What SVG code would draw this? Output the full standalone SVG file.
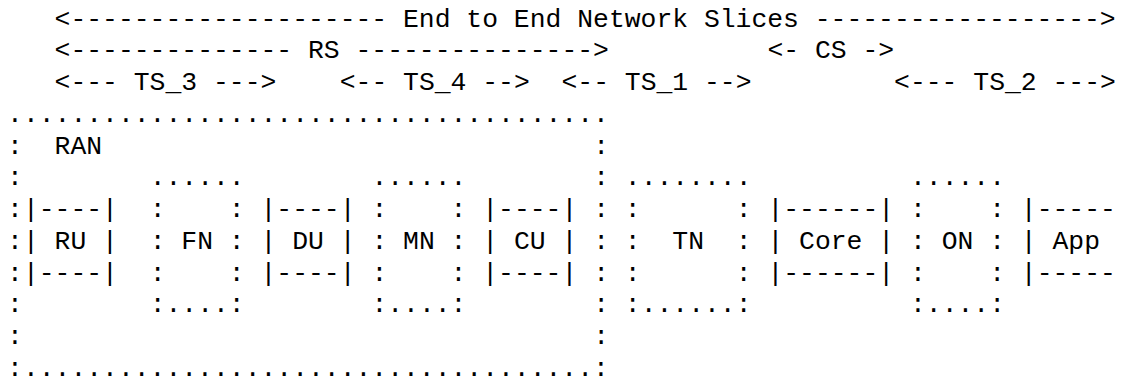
<svg xmlns="http://www.w3.org/2000/svg" width="1123" height="378" viewBox="0 0 1123 378" xml:space="preserve">
<style>
  text { font-family: "Liberation Mono", "DejaVu Sans Mono", monospace; font-size: 26.4px; fill: #000; white-space: pre; }
</style>
<rect x="0" y="0" width="1123" height="378" fill="#fff"/>
<g id="connectors">
  <g id="slices">
    <text x="54.6" y="26.5">&lt;-------------------- End to End Network Slices ------------------&gt;</text>
    <text x="54.6" y="58.25">&lt;-------------- RS ---------------&gt;</text>
    <text x="767.4" y="58.25">&lt;- CS -&gt;</text>
    <text x="54.6" y="90">&lt;--- TS_3 ---&gt;</text>
    <text x="339.72" y="90">&lt;-- TS_4 --&gt;</text>
    <text x="561.48" y="90">&lt;-- TS_1 --&gt;</text>
    <text x="894.12" y="90">&lt;--- TS_2 ---&gt;</text>
  </g>
</g>
<g id="ran">
  <text x="7.08" y="121.75">......................................</text>
  <text x="7.08" y="153.5">:  RAN</text>
  <text x="593.16" y="153.5">:</text>
  <text x="7.08" y="185.25">:</text>
  <text x="593.16" y="185.25">:</text>
  <text x="7.08" y="217">:</text>
  <text x="593.16" y="217">:</text>
  <text x="7.08" y="248.75">:</text>
  <text x="593.16" y="248.75">:</text>
  <text x="7.08" y="280.5">:</text>
  <text x="593.16" y="280.5">:</text>
  <text x="7.08" y="312.25">:</text>
  <text x="593.16" y="312.25">:</text>
  <text x="7.08" y="344">:</text>
  <text x="593.16" y="344">:</text>
  <text x="7.08" y="375.75">:....................................:</text>
</g>
<g id="ru">
  <text x="22.92" y="217">|----|</text>
  <text x="22.92" y="248.75">| RU |</text>
  <text x="22.92" y="280.5">|----|</text>
</g>
<g id="fn">
  <text x="149.64" y="185.25">......</text>
  <text x="149.64" y="217">:    :</text>
  <text x="149.64" y="248.75">: FN :</text>
  <text x="149.64" y="280.5">:    :</text>
  <text x="149.64" y="312.25">:....:</text>
</g>
<g id="du">
  <text x="260.52" y="217">|----|</text>
  <text x="260.52" y="248.75">| DU |</text>
  <text x="260.52" y="280.5">|----|</text>
</g>
<g id="mn">
  <text x="371.4" y="185.25">......</text>
  <text x="371.4" y="217">:    :</text>
  <text x="371.4" y="248.75">: MN :</text>
  <text x="371.4" y="280.5">:    :</text>
  <text x="371.4" y="312.25">:....:</text>
</g>
<g id="cu">
  <text x="482.28" y="217">|----|</text>
  <text x="482.28" y="248.75">| CU |</text>
  <text x="482.28" y="280.5">|----|</text>
</g>
<g id="tn">
  <text x="624.84" y="185.25">........</text>
  <text x="624.84" y="217">:      :</text>
  <text x="624.84" y="248.75">:  TN  :</text>
  <text x="624.84" y="280.5">:      :</text>
  <text x="624.84" y="312.25">:......:</text>
</g>
<g id="core">
  <text x="767.4" y="217">|------|</text>
  <text x="767.4" y="248.75">| Core |</text>
  <text x="767.4" y="280.5">|------|</text>
</g>
<g id="on">
  <text x="909.96" y="185.25">......</text>
  <text x="909.96" y="217">:    :</text>
  <text x="909.96" y="248.75">: ON :</text>
  <text x="909.96" y="280.5">:    :</text>
  <text x="909.96" y="312.25">:....:</text>
</g>
<g id="app">
  <text x="1020.84" y="217">|-----</text>
  <text x="1020.84" y="248.75">| App</text>
  <text x="1020.84" y="280.5">|-----</text>
</g>
</svg>
